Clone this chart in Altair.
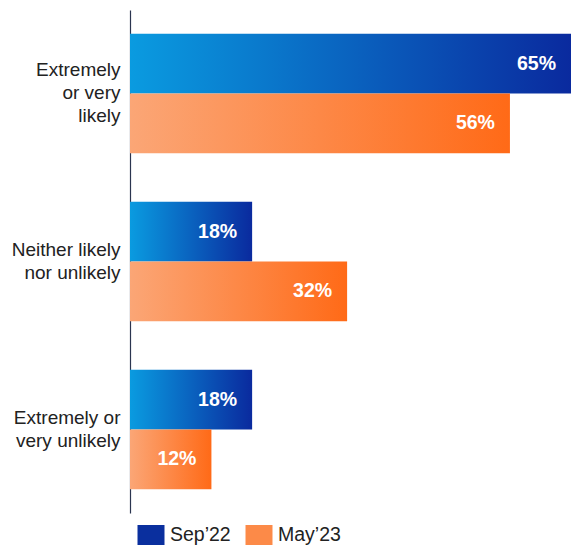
import altair as alt
import pandas as pd

categories = ["Extremely|or very|likely", "Neither likely|nor unlikely", "Extremely or|very unlikely"]
series = ["Sep’22", "May’23"]
sep22 = [65, 18, 18]
may23 = [56, 32, 12]

rows = []
for c, a, b in zip(categories, sep22, may23):
    rows.append({"category": c, "series": series[0], "value": a, "label": f"{a}%"})
    rows.append({"category": c, "series": series[1], "value": b, "label": f"{b}%"})
df = pd.DataFrame(rows)

FONT = "Liberation Sans"
LINE_H = 23

base = alt.Chart(df).encode(
    y=alt.Y(
        "category:N",
        sort=categories,
        scale=alt.Scale(paddingInner=0.29, paddingOuter=0.142),
        axis=alt.Axis(
            title=None,
            labelExpr="split(datum.label, '|')",
            labelFontSize=19,
            labelLineHeight=LINE_H,
            labelAlign="right",
            labelBaseline="middle",
            labelOffset={"expr": f"-(length(split(datum.value, '|')) - 1) * {LINE_H / 2}"},
            labelPadding=10,
            labelFont=FONT,
            labelColor="#222222",
            labelLimit=200,
            ticks=False,
            domainColor="#2b3550",
            domainWidth=1.2,
            grid=False,
        ),
    ),
    yOffset=alt.YOffset(
        "series:N", sort=series,
        scale=alt.Scale(domain=series, paddingInner=0, paddingOuter=0),
    ),
    x=alt.X("value:Q", scale=alt.Scale(domain=[0, 65], nice=False, zero=True), axis=None),
)

blue = alt.Gradient(
    gradient="linear",
    stops=[alt.GradientStop(color="#0a9be0", offset=0), alt.GradientStop(color="#0a2a9e", offset=1)],
    x1=0, x2=1, y1=0, y2=0,
)
orange = alt.Gradient(
    gradient="linear",
    stops=[alt.GradientStop(color="#fba676", offset=0), alt.GradientStop(color="#ff6a17", offset=1)],
    x1=0, x2=1, y1=0, y2=0,
)

bars_sep = base.transform_filter(alt.datum.series == series[0]).mark_bar(color=blue, cornerRadius=0)
bars_may = base.transform_filter(alt.datum.series == series[1]).mark_bar(color=orange, cornerRadius=0)

labels = base.mark_text(
    align="right", baseline="middle", dx=-15, color="white",
    fontSize=19.5, fontWeight="bold", font=FONT,
).encode(text="label:N")

legend_layer = base.mark_square(opacity=0, size=0, filled=True).encode(
    color=alt.Color(
        "series:N",
        scale=alt.Scale(domain=series, range=["#0a2f9e", "#fc8a48"]),
        legend=alt.Legend(
            title=None,
            orient="none",
            direction="horizontal",
            legendX=11,
            legendY=515,
            symbolType="M-1.35,-1L1.35,-1L1.35,1L-1.35,1Z",
            symbolSize=400,
            symbolOpacity=1,
            symbolStrokeWidth=0,
            labelFontSize=19.5,
            labelFont=FONT,
            labelColor="#222222",
            labelOffset=9,
            columnPadding=14,
        ),
    )
)

chart = alt.layer(bars_sep, bars_may, labels, legend_layer).properties(
    width=441,
    height=503,
    padding={"left": 130, "top": 10, "right": 0, "bottom": 33},
    autosize=alt.AutoSizeParams(type="none"),
).configure_view(stroke=None)

chart.save("out.html", embed_options={"renderer": "svg", "actions": False})
